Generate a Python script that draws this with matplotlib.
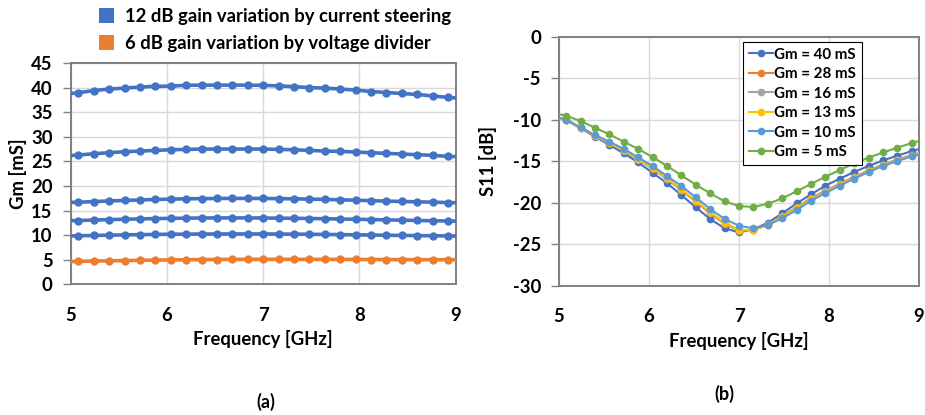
import matplotlib
matplotlib.use("Agg")
import matplotlib.pyplot as plt
from matplotlib.patches import Patch
import numpy as np

plt.rcParams['font.family'] = ['Lato', 'DejaVu Sans']
plt.rcParams['font.weight'] = 'bold'
plt.rcParams['axes.unicode_minus'] = False

# Frequency grid (GHz); end points lie just outside the 5-9 GHz axis range
freq = np.round(np.arange(4.92, 9.09, 0.16), 2)

# (a) Gm vs frequency [mS]
gm_40 = [38.6, 38.97, 39.4, 39.7, 39.9, 40.1, 40.27, 40.3, 40.47, 40.5, 40.5,
         40.5, 40.5, 40.45, 40.35, 40.2, 40.0, 39.9, 39.7, 39.5, 39.2,
         39.0, 38.8, 38.6, 38.3, 38.0, 37.75]
gm_27 = [26.1, 26.28, 26.55, 26.76, 26.96, 27.09, 27.23, 27.36, 27.43, 27.5, 27.5,
         27.5, 27.5, 27.5, 27.43, 27.36, 27.23, 27.09, 27.03, 26.89, 26.76,
         26.62, 26.49, 26.35, 26.22, 26.01, 25.9]
gm_17 = [16.6, 16.69, 16.82, 16.95, 17.05, 17.15, 17.25, 17.32, 17.38, 17.42, 17.45,
         17.47, 17.47, 17.45, 17.42, 17.38, 17.32, 17.26, 17.18, 17.1, 17.0,
         16.92, 16.84, 16.77, 16.7, 16.62, 16.55]
gm_13 = [12.9, 12.97, 13.07, 13.15, 13.23, 13.3, 13.36, 13.41, 13.45, 13.48, 13.5,
         13.5, 13.5, 13.48, 13.45, 13.42, 13.38, 13.33, 13.28, 13.22, 13.16,
         13.1, 13.04, 12.98, 12.92, 12.87, 12.82]
gm_10 = [9.8, 9.86, 9.93, 9.99, 10.05, 10.1, 10.14, 10.18, 10.2, 10.22, 10.23,
         10.24, 10.24, 10.23, 10.22, 10.2, 10.17, 10.14, 10.1, 10.06, 10.02,
         9.98, 9.94, 9.9, 9.87, 9.84, 9.8]
gm_5 = [4.6, 4.66, 4.72, 4.78, 4.83, 4.88, 4.92, 4.96, 4.99, 5.02, 5.04,
        5.06, 5.07, 5.08, 5.08, 5.08, 5.07, 5.07, 5.06, 5.05, 5.04,
        5.03, 5.02, 5.01, 5.0, 5.0, 4.99]
legend_a = ["12 dB gain variation by current steering",
            "6 dB gain variation by voltage divider"]

# (b) S11 vs frequency [dB]
s11_40 = [-9.6, -10.05, -11.05, -12.05, -13.05, -14.05, -15.15, -16.4, -17.65, -19.08,
          -20.56, -21.97, -23.09, -23.57, -23.21, -22.41, -21.29, -20.08, -19.0,
          -17.95, -17.1, -16.3, -15.58, -14.9, -14.34, -13.78, -13.3]
s11_28 = [-9.6, -10.05, -11.0, -11.95, -12.85, -13.78, -14.8, -15.9, -17.15, -18.5,
          -19.9, -21.3, -22.55, -23.35, -23.25, -22.6, -21.6, -20.55, -19.45,
          -18.55, -17.7, -16.88, -16.1, -15.4, -14.8, -14.25, -13.8]
s11_16 = [-9.6, -10.05, -10.99, -11.93, -12.82, -13.74, -14.76, -15.85, -17.1, -18.45,
          -19.83, -21.23, -22.48, -23.32, -23.28, -22.65, -21.65, -20.62, -19.53,
          -18.62, -17.78, -16.94, -16.16, -15.45, -14.85, -14.3, -13.85]
s11_13 = [-9.6, -10.05, -10.98, -11.92, -12.8, -13.7, -14.72, -15.8, -17.05, -18.39,
          -19.76, -21.16, -22.4, -23.3, -23.3, -22.69, -21.69, -20.68, -19.6,
          -18.7, -17.85, -17.0, -16.22, -15.5, -14.9, -14.35, -13.9]
s11_10 = [-9.55, -10.0, -10.92, -11.85, -12.65, -13.53, -14.54, -15.58, -16.79, -17.99,
          -19.35, -20.76, -21.96, -22.77, -23.09, -22.69, -21.88, -20.88, -19.76,
          -18.85, -17.95, -17.1, -16.3, -15.58, -14.98, -14.42, -13.95]
s11_5 = [-9.15, -9.52, -10.16, -10.96, -11.77, -12.65, -13.53, -14.5, -15.58, -16.71,
         -17.83, -18.88, -19.84, -20.4, -20.52, -20.12, -19.48, -18.63, -17.75,
         -16.87, -16.06, -15.26, -14.58, -13.94, -13.37, -12.81, -12.3]
labels_b = ["Gm = 40 mS", "Gm = 28 mS", "Gm = 16 mS", "Gm = 13 mS", "Gm = 10 mS", "Gm = 5 mS"]

BLUE = '#4472C4'
ORANGE = '#ED7D31'
GRAY = '#A5A5A5'
YELLOW = '#FFC000'
LBLUE = '#5B9BD5'
GREEN = '#70AD47'
SPINE = '#808080'
GRID = '#D9D9D9'
FS = 13.3

fig = plt.figure(figsize=(9.25, 4.15), dpi=100)

def style(ax):
    for s in ax.spines.values():
        s.set_color(SPINE)
        s.set_linewidth(1.4)
    ax.grid(True, color=GRID, linewidth=1.0)
    ax.set_axisbelow(True)
    ax.tick_params(axis='y', length=6, width=1, color=SPINE, labelsize=FS, pad=7)
    ax.tick_params(axis='x', length=0, labelsize=FS, pad=16)
    for t in ax.get_xticklabels() + ax.get_yticklabels():
        t.set_fontweight('bold')

# ---- (a)
axa = fig.add_axes([70.7 / 925, 1 - 284.3 / 415, 385 / 925, 221.3 / 415])
for ys, c in [(gm_40, BLUE), (gm_27, BLUE), (gm_17, BLUE), (gm_13, BLUE), (gm_10, BLUE), (gm_5, ORANGE)]:
    axa.plot(freq, ys, color=c, lw=2.6, marker='o', ms=5, zorder=3)
axa.set_xlim(5, 9)
axa.set_ylim(0, 45)
axa.set_xticks([5, 6, 7, 8, 9])
axa.set_yticks(range(0, 46, 5))
style(axa)
axa.set_xlabel("Frequency [GHz]", fontsize=FS, fontweight='bold', labelpad=5)
axa.set_ylabel("Gm [mS]", fontsize=FS, fontweight='bold', labelpad=3)
handles = [Patch(facecolor=BLUE, edgecolor='none'), Patch(facecolor=ORANGE, edgecolor='none')]
fig.legend(handles, legend_a, loc='upper left', bbox_to_anchor=(86 / 925, 1.012),
           frameon=False, prop={'weight': 'bold', 'size': 13.3}, borderpad=0.2,
           handlelength=0.8, handleheight=0.85, handletextpad=0.6, labelspacing=0.55)
fig.text(266 / 925, 1 - 402 / 415, "(a)", ha='center', va='center', fontsize=13, fontweight='bold')

# ---- (b)
axb = fig.add_axes([559 / 925, 1 - 285.7 / 415, 360 / 925, 249 / 415])
for ys, c, lab in [(s11_40, BLUE, labels_b[0]), (s11_28, ORANGE, labels_b[1]),
                   (s11_16, GRAY, labels_b[2]), (s11_13, YELLOW, labels_b[3]),
                   (s11_10, LBLUE, labels_b[4]), (s11_5, GREEN, labels_b[5])]:
    axb.plot(freq, ys, color=c, lw=1.5, marker='o', ms=4.5, label=lab, zorder=3)
axb.set_xlim(5, 9)
axb.set_ylim(-30, 0)
axb.set_xticks([5, 6, 7, 8, 9])
axb.set_yticks(range(-30, 1, 5))
style(axb)
axb.set_xlabel("Frequency [GHz]", fontsize=FS, fontweight='bold', labelpad=5)
axb.set_ylabel("S11 [dB]", fontsize=FS, fontweight='bold', labelpad=11)
leg = axb.legend(loc='upper left', bbox_to_anchor=(0.51, 0.98),
                 prop={'weight': 'bold', 'size': 10.9}, frameon=True, fancybox=False,
                 edgecolor='black', framealpha=1, handlelength=1.6, handletextpad=0.1,
                 labelspacing=0.36, borderpad=0.4, borderaxespad=0.0)
leg.get_frame().set_linewidth(0.8)
fig.text(724 / 925, 1 - 394 / 415, "(b)", ha='center', va='center', fontsize=13, fontweight='bold')

fig.savefig("out.png", dpi=100)
